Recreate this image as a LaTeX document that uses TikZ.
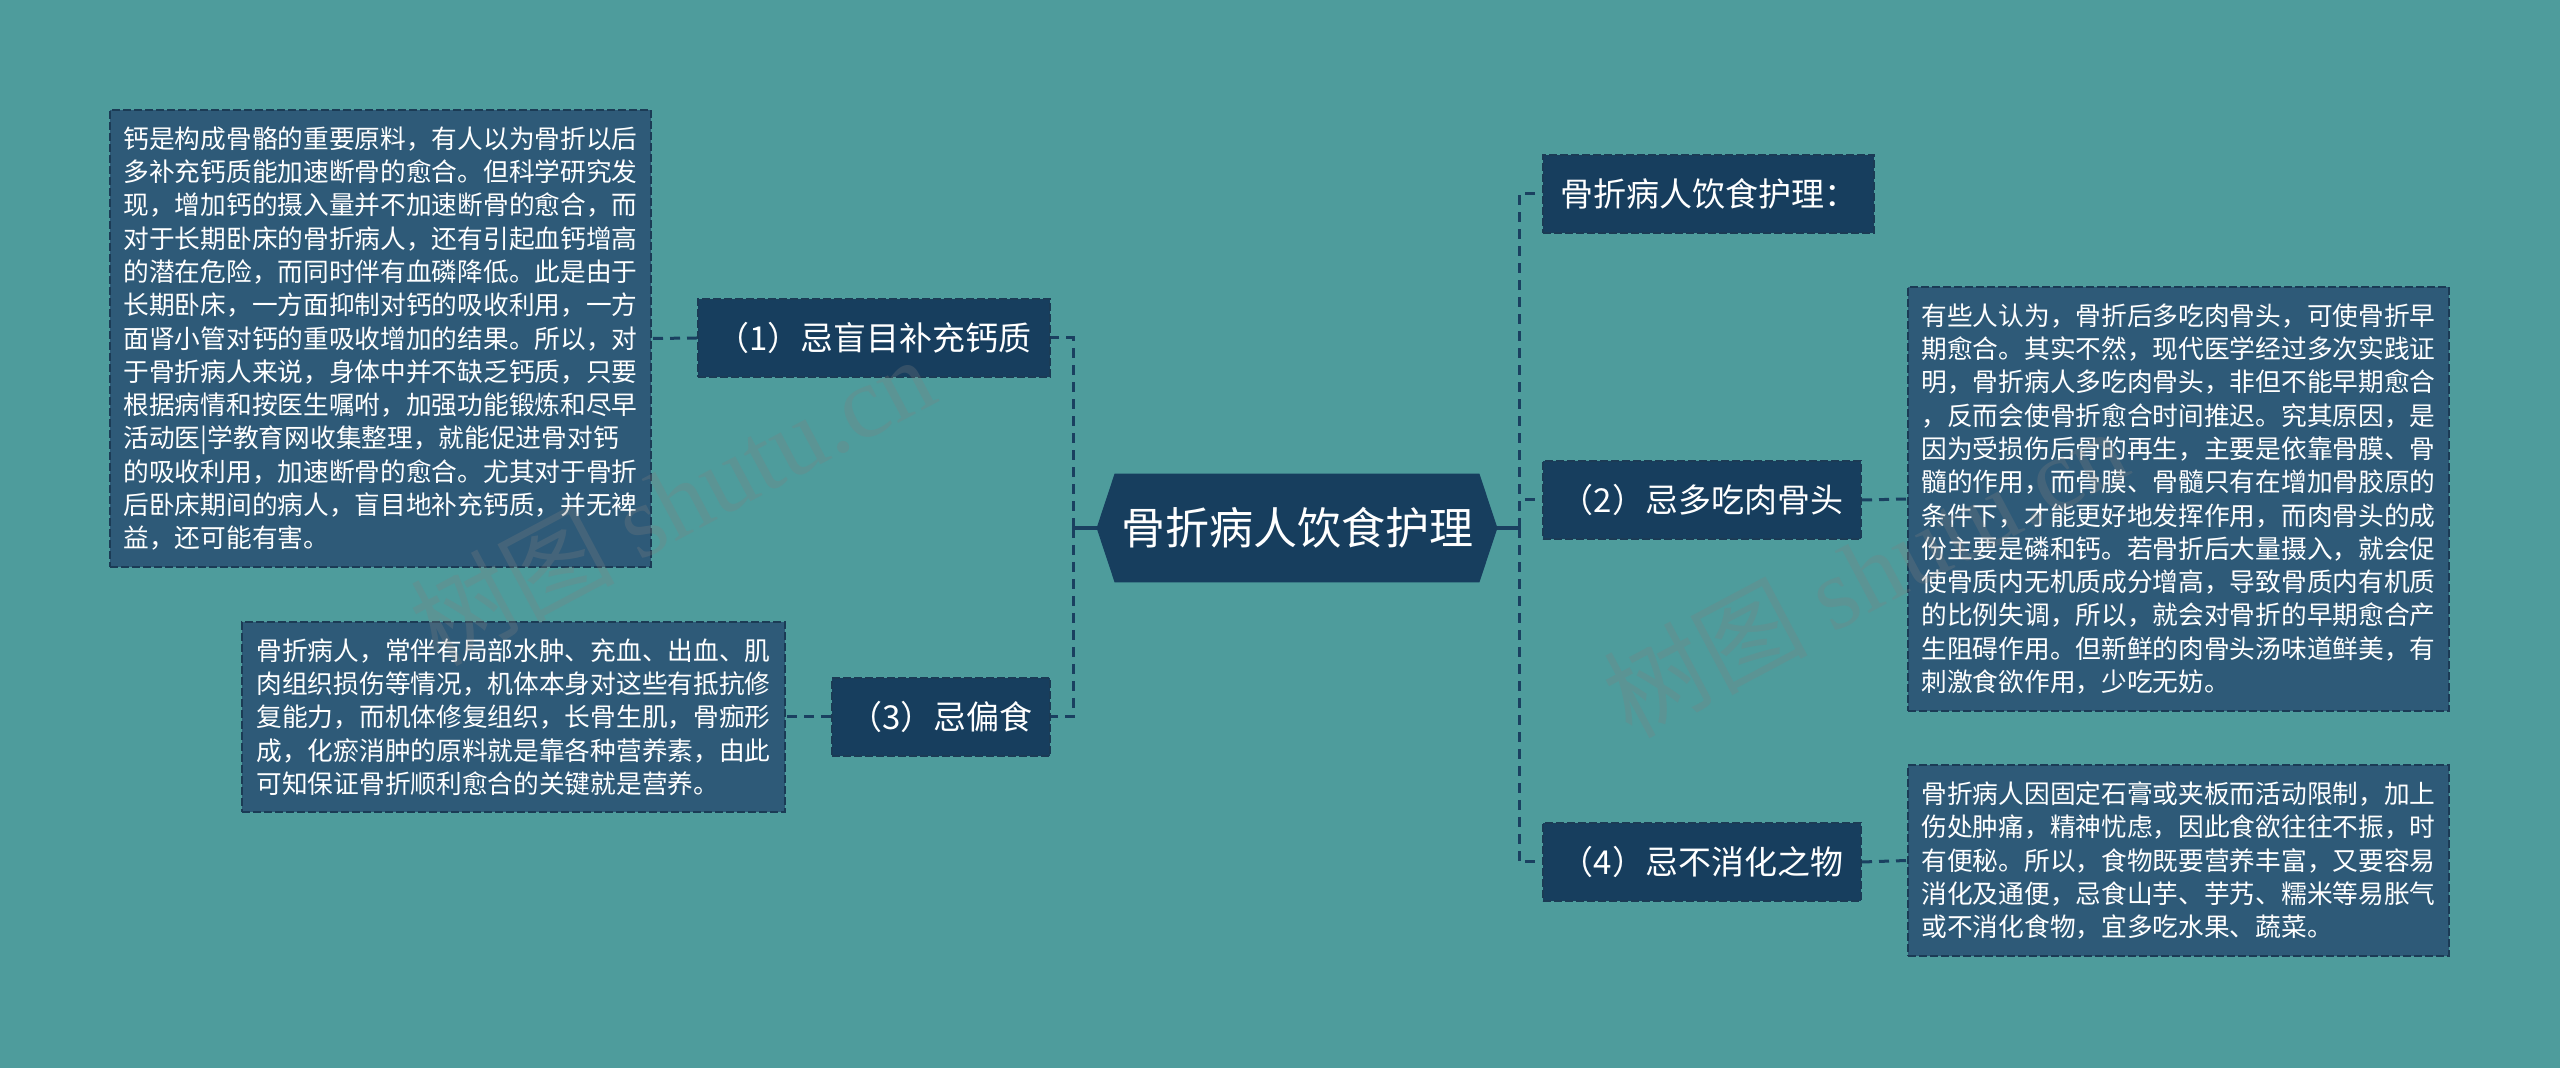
\documentclass[tikz,border=0pt]{standalone}
\usepackage{fontspec}
\setmainfont{Noto Sans CJK SC}
\newfontfamily\wmserif{Liberation Serif}
\usetikzlibrary{backgrounds}
\definecolor{bgc}{HTML}{4E9C9C}
\definecolor{nodefill}{HTML}{173E5E}
\definecolor{boxfill}{HTML}{2E5A78}
\definecolor{borderc}{HTML}{1B3B55}
\definecolor{linkc}{HTML}{1A4060}
\begin{document}
\begin{tikzpicture}[x=0.5pt,y=-0.5pt,
  topic/.style={draw=borderc, line width=1pt, dash pattern=on 4pt off 1.5pt, fill=nodefill, text=white, inner sep=0pt, minimum height=39pt, font=\fontsize{16.5pt}{20pt}\selectfont},
  desc/.style={draw=borderc, line width=1pt, dash pattern=on 4pt off 1.5pt, fill=boxfill, text=white, inner sep=0pt, align=left, font=\fontsize{12.85pt}{16.65pt}\selectfont},
  link/.style={draw=linkc, line width=1.5pt, dash pattern=on 5pt off 3.5pt},
  stub/.style={draw=linkc, line width=2pt},
  wm/.style={text=gray, text opacity=0.28, font=\fontsize{51pt}{54pt}\selectfont, inner sep=0pt}
]
\useasboundingbox (0,0) rectangle (2560,1068);

% central topic
\node (c) [minimum width=200pt, minimum height=54pt, inner sep=0pt] at (1297,528) {};
\fill[nodefill] (c.west) -- ([xshift=9pt]c.north west) -- ([xshift=-9pt]c.north east) -- (c.east) -- ([xshift=-9pt]c.south east) -- ([xshift=9pt]c.south west) -- cycle;
\node (ct) [text=white, font=\fontsize{22pt}{26pt}\selectfont, inner sep=0pt] at (c) {骨折病人饮食护理};

% left branches
\node (n1) [topic, minimum width=176pt] at (874,338) {（1）忌盲目补充钙质};
\node (n3) [topic, minimum width=109pt] at (941,717) {（3）忌偏食};
% right branches
\node (t0) [topic, minimum width=165.5pt] at (1708.5,194) {骨折病人饮食护理：};
\node (n2) [topic, minimum width=159pt] at (1702,500) {（2）忌多吃肉骨头};
\node (n4) [topic, minimum width=159pt] at (1702,862) {（4）忌不消化之物};

% descriptions
\node (d1) [desc, minimum width=270.5pt, minimum height=228.5pt] at (380.5,338.5) {钙是构成骨骼的重要原料，有人以为骨折以后\\多补充钙质能加速断骨的愈合。但科学研究发\\现，增加钙的摄入量并不加速断骨的愈合，而\\对于长期卧床的骨折病人，还有引起血钙增高\\的潜在危险，而同时伴有血磷降低。此是由于\\长期卧床，一方面抑制对钙的吸收利用，一方\\面肾小管对钙的重吸收增加的结果。所以，对\\于骨折病人来说，身体中并不缺乏钙质，只要\\根据病情和按医生嘱咐，加强功能锻炼和尽早\\活动医|学教育网收集整理，就能促进骨对钙\\的吸收利用，加速断骨的愈合。尤其对于骨折\\后卧床期间的病人，盲目地补充钙质，并无裨\\益，还可能有害。};
\node (d3) [desc, minimum width=271.5pt, minimum height=95pt] at (513.5,717) {骨折病人，常伴有局部水肿、充血、出血、肌\\肉组织损伤等情况，机体本身对这些有抵抗修\\复能力，而机体修复组织，长骨生肌，骨痂形\\成，化瘀消肿的原料就是靠各种营养素，由此\\可知保证骨折顺利愈合的关键就是营养。};
\node (d2) [desc, minimum width=270.5pt, minimum height=212pt] at (2178.5,499) {有些人认为，骨折后多吃肉骨头，可使骨折早\\期愈合。其实不然，现代医学经过多次实践证\\明，骨折病人多吃肉骨头，非但不能早期愈合\\，反而会使骨折愈合时间推迟。究其原因，是\\因为受损伤后骨的再生，主要是依靠骨膜、骨\\髓的作用，而骨膜、骨髓只有在增加骨胶原的\\条件下，才能更好地发挥作用，而肉骨头的成\\份主要是磷和钙。若骨折后大量摄入，就会促\\使骨质内无机质成分增高，导致骨质内有机质\\的比例失调，所以，就会对骨折的早期愈合产\\生阻碍作用。但新鲜的肉骨头汤味道鲜美，有\\刺激食欲作用，少吃无妨。};
\node (d4) [desc, minimum width=270.5pt, minimum height=95.5pt] at (2178.5,860.5) {骨折病人因固定石膏或夹板而活动限制，加上\\伤处肿痛，精神忧虑，因此食欲往往不振，时\\有便秘。所以，食物既要营养丰富，又要容易\\消化及通便，忌食山芋、芋艿、糯米等易胀气\\或不消化食物，宜多吃水果、蔬菜。};

\coordinate (sl) at (1073,528);
\coordinate (sr) at (1519,528);

\begin{scope}[on background layer]
\fill[bgc] (0,0) rectangle (2560,1068);
\draw[stub] (c.west) -- (sl);
\draw[stub] (c.east) -- (sr);
\draw[link] (sl) |- (n1.east);
\draw[link] (sl) |- (n3.east);
\draw[link] (sr) |- (t0.west);
\draw[link] (sr) |- (n2.west);
\draw[link] (sr) |- (n4.west);
\draw[link] (n1.west) -- (d1.east);
\draw[link] (n3.west) -- (d3.east);
\draw[link] (n2.east) -- (d2.west);
\draw[link] (n4.east) -- (d4.west);
\end{scope}

% watermark
\node (wm1) [wm, rotate=28] at (672,500) {树图 {\wmserif shutu.cn}};
\node (wm2) [wm, rotate=28] at (1865,572) {树图 {\wmserif shutu.cn}};
\end{tikzpicture}
\end{document}
